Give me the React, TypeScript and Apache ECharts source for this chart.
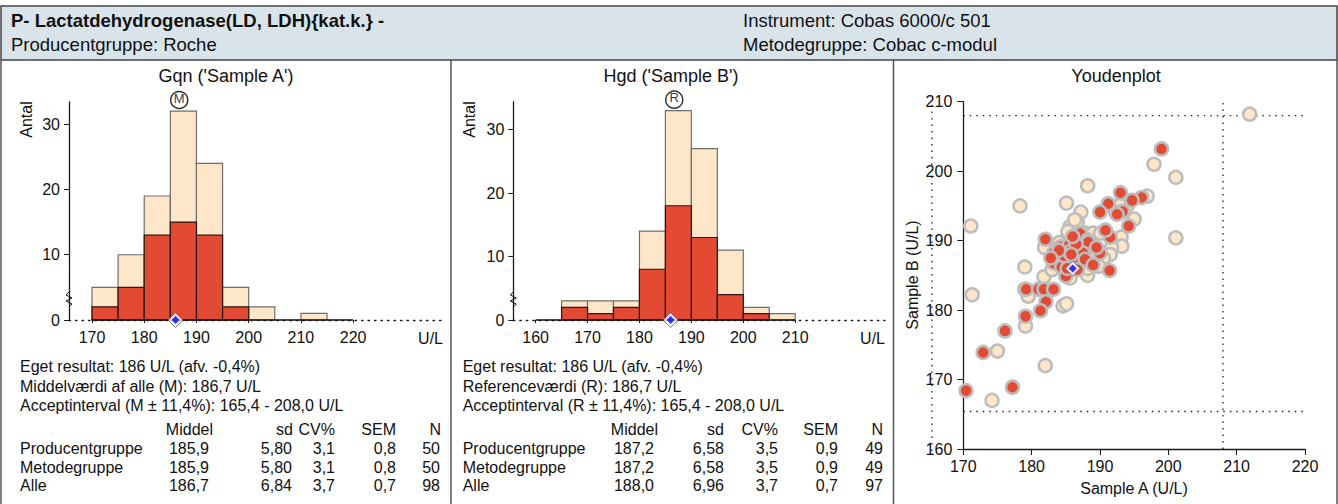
import React, { useEffect, useRef } from "react";
import * as echarts from "echarts";

const FONT = "'Liberation Sans', Arial, Helvetica, sans-serif";

// ---------- data ----------
const binWidth = 5;
const binStartsA = [170, 175, 180, 185, 190, 195, 200, 205, 210, 215];
const totalA = [5, 10, 19, 32, 24, 5, 2, 0, 1, 0];
const groupA = [2, 5, 13, 15, 13, 2, 0, 0, 0, 0];
const binStartsB = [160, 165, 170, 175, 180, 185, 190, 195, 200, 205];
const totalB = [0, 3, 3, 3, 14, 33, 27, 11, 2, 1];
const groupB = [0, 2, 1, 2, 8, 18, 13, 4, 1, 0];

const histTicksA = [170, 180, 190, 200, 210, 220];
const histTicksB = [160, 170, 180, 190, 200, 210];
const countTicks = [0, 10, 20, 30];

const ownResultA = 186;
const ownResultB = 186;
const meanA = 186.7;
const refB = 186.7;
const acceptLow = 165.4;
const acceptHigh = 208.0;

const youdenOthers: number[][] = [
  [211.9, 208.2], [197.9, 201.0], [201.1, 199.1], [188.2, 197.9], [178.3, 195.0],
  [185.1, 195.4], [187.2, 194.1], [171.1, 192.1], [201.1, 190.4], [196.9, 196.4],
  [194.0, 195.1], [192.9, 195.1], [192.3, 194.1], [195.0, 193.1], [185.6, 192.0],
  [186.7, 192.7], [187.8, 191.1], [189.0, 191.1], [190.1, 191.1], [193.1, 190.5],
  [193.2, 189.2], [181.9, 189.0], [185.0, 190.1], [186.9, 188.9], [191.7, 189.0],
  [191.5, 188.0], [188.9, 187.3], [179.0, 186.2], [181.8, 184.8], [188.2, 185.0],
  [188.2, 186.0], [185.6, 184.6], [179.5, 182.0], [179.0, 183.0], [184.6, 180.6],
  [185.1, 180.9], [179.1, 177.7], [171.3, 182.2], [175.0, 174.1], [182.0, 172.0],
  [174.2, 167.0], [186.3, 193.0], [185.3, 191.3], [184.0, 189.7], [190.5, 187.5],
  [187.0, 187.7], [186.0, 186.8], [183.0, 185.8], [189.8, 186.3],
];
const youdenGroup: number[][] = [
  [199.0, 203.2], [193.0, 196.9], [196.1, 196.2], [194.7, 195.8], [191.2, 195.3],
  [190.0, 194.1], [193.3, 194.2], [194.2, 192.1], [187.1, 191.0], [191.5, 190.5],
  [182.0, 190.2], [184.2, 189.1], [185.5, 189.4], [188.2, 190.1], [190.0, 188.2],
  [183.2, 188.2], [183.6, 187.6], [183.2, 186.8], [184.4, 186.2], [185.0, 184.9],
  [191.4, 185.7], [179.2, 183.0], [181.0, 183.0], [181.8, 183.0], [183.2, 183.0],
  [182.1, 181.2], [181.3, 179.9], [179.1, 179.1], [176.1, 177.0], [172.9, 173.9],
  [177.2, 168.9], [170.4, 168.4], [185.7, 188.5], [188.3, 189.8], [186.3, 187.0],
  [184.8, 187.8], [187.5, 188.2], [186.5, 189.5], [189.5, 189.0], [185.2, 186.0],
  [192.5, 193.8], [187.8, 187.3], [184.0, 188.6], [186.0, 190.6], [182.8, 187.5],
  [189.0, 186.5], [190.8, 191.5], [186.7, 185.8], [185.8, 188.0],
];

const headerTitle = "P- Lactatdehydrogenase(LD, LDH){kat.k.} -";
const headerProducer = "Producentgruppe: Roche";
const headerInstrument = "Instrument: Cobas 6000/c 501";
const headerMethod = "Metodegruppe: Cobac c-modul";

const infoA = [
  "Eget resultat: 186 U/L (afv. -0,4%)",
  "Middelværdi af alle (M): 186,7 U/L",
  "Acceptinterval (M ± 11,4%): 165,4 - 208,0 U/L",
];
const infoB = [
  "Eget resultat: 186 U/L (afv. -0,4%)",
  "Referenceværdi (R): 186,7 U/L",
  "Acceptinterval (R ± 11,4%): 165,4 - 208,0 U/L",
];
const statHeader = ["Middel", "sd", "CV%", "SEM", "N"];
const statRowsA = [
  ["Producentgruppe", "185,9", "5,80", "3,1", "0,8", "50"],
  ["Metodegruppe", "185,9", "5,80", "3,1", "0,8", "50"],
  ["Alle", "186,7", "6,84", "3,7", "0,7", "98"],
];
const statRowsB = [
  ["Producentgruppe", "187,2", "6,58", "3,5", "0,9", "49"],
  ["Metodegruppe", "187,2", "6,58", "3,5", "0,9", "49"],
  ["Alle", "188,0", "6,96", "3,7", "0,7", "97"],
];

// ---------- styles ----------
const RED = "#e34a33";
const BEIGE = "#fee6c8";
const AXIS = "#1a1a1a";
const DOT: number[] = [1.5, 5];

function histSeries(idx: number, starts: number[], counts: number[], fill: string, stroke: string) {
  return {
    type: "custom",
    xAxisIndex: idx,
    yAxisIndex: idx,
    clip: false,
    silent: true,
    encode: { x: [0, 1], y: 2 },
    data: starts.map((s, i) => [s, s + binWidth, counts[i]]).filter((d) => d[2] > 0),
    renderItem: (_p: any, api: any) => {
      const a = api.coord([api.value(0), 0]);
      const b = api.coord([api.value(1), api.value(2)]);
      return {
        type: "rect",
        shape: { x: a[0], y: b[1], width: b[0] - a[0], height: a[1] - b[1] },
        style: { fill, stroke, lineWidth: 1.2 },
      };
    },
  };
}

function diamond(idx: number, x: number, y: number) {
  return [
    {
      type: "scatter", xAxisIndex: idx, yAxisIndex: idx, clip: false, silent: true, z: 5,
      symbol: "diamond", symbolSize: 15, data: [[x, y]],
      itemStyle: { color: "#ffffff", borderColor: "#555", borderWidth: 1 },
    },
    {
      type: "scatter", xAxisIndex: idx, yAxisIndex: idx, clip: false, silent: true, z: 6,
      symbol: "diamond", symbolSize: 8, data: [[x, y]],
      itemStyle: { color: "#0000ff" },
    },
  ];
}

function circledLetter(idx: number, x: number, y: number, letter: string) {
  return {
    type: "scatter", xAxisIndex: idx, yAxisIndex: idx, clip: false, silent: true, z: 5,
    symbol: "circle", symbolSize: 17, symbolOffset: [0, -2], data: [[x, y]],
    itemStyle: { color: "#ffffff", borderColor: "#000", borderWidth: 1.5 },
    label: { show: true, position: "inside", formatter: letter, fontSize: 13, color: "#000", fontFamily: FONT, offset: [0, -2] },
  };
}

function histAxes(idx: number, min: number, max: number, ticks: number[], yMax: number) {
  const x = {
    gridIndex: idx, type: "value", min, max,
    axisLine: { show: true, onZero: false, lineStyle: { color: AXIS, width: 1.3, type: DOT } },
    axisTick: { show: true, length: 3, customValues: ticks, lineStyle: { color: AXIS, width: 1 } },
    axisLabel: { customValues: ticks, fontSize: 16, color: "#111", margin: 9, fontFamily: FONT },
    splitLine: { show: false },
  };
  const y = {
    gridIndex: idx, type: "value", min: 0, max: yMax,
    axisLine: { show: true, lineStyle: { color: AXIS, width: 1.3 } },
    axisTick: { show: true, length: 5, customValues: countTicks, lineStyle: { color: AXIS, width: 1 } },
    axisLabel: { customValues: countTicks, fontSize: 16, color: "#111", margin: 9, fontFamily: FONT },
    splitLine: { show: false },
  };
  return { x, y };
}

function txt(x: number, y: number, text: string, opts: any = {}) {
  return {
    type: "text", x, y, silent: true, z: 10,
    rotation: opts.rotation || 0,
    style: {
      text, fill: "#111", fontSize: opts.size || 16, fontFamily: FONT,
      fontWeight: opts.bold ? "bold" : "normal",
      align: opts.align || "left", verticalAlign: "middle",
    },
  };
}

function statTable(left: number, rights: number[], headRights: number[], info: string[], rows: string[][]) {
  const out: any[] = [];
  const infoY = [366, 386, 405];
  info.forEach((t, i) => out.push(txt(left, infoY[i], t)));
  statHeader.forEach((h, i) => out.push(txt(headRights[i], 429, h, { align: "right" })));
  const rowY = [448, 467, 485];
  rows.forEach((r, ri) => {
    out.push(txt(left, rowY[ri], r[0]));
    r.slice(1).forEach((v, ci) => out.push(txt(rights[ci], rowY[ri], v, { align: "right" })));
  });
  return out;
}

function zigzag(x: number, y: number) {
  return {
    type: "polyline", silent: true, z: 10,
    shape: { points: [[x, y - 8], [x - 3, y - 5], [x + 3, y - 2], [x - 3, y + 1], [x + 3, y + 4], [x, y + 7]] },
    style: { stroke: "#111", lineWidth: 1, fill: null },
  };
}

export default function App() {
  const ref = useRef<HTMLDivElement>(null);
  useEffect(() => {
    document.body.style.margin = "0";
    const chart = echarts.init(ref.current!, null, { renderer: "svg" });
    const a0 = histAxes(0, 165.6, 237.2, histTicksA, 33.4);
    const a1 = histAxes(1, 155.7, 227.3, histTicksB, 34.4);
    const youdenTicksLabel = { fontSize: 16, color: "#111", fontFamily: FONT };
    const graphic: any[] = [
      {
        type: "rect", silent: true, z: 0,
        shape: { x: 1, y: 6, width: 1336, height: 54 },
        style: { fill: "#d9e4ea", stroke: "#444", lineWidth: 1.5 },
      },
      { type: "line", silent: true, shape: { x1: 1, y1: 60, x2: 1, y2: 504 }, style: { stroke: "#555", lineWidth: 1.5 } },
      { type: "line", silent: true, shape: { x1: 451, y1: 60, x2: 451, y2: 504 }, style: { stroke: "#555", lineWidth: 1.5 } },
      { type: "line", silent: true, shape: { x1: 893.5, y1: 60, x2: 893.5, y2: 504 }, style: { stroke: "#555", lineWidth: 1.5 } },
      { type: "line", silent: true, shape: { x1: 1337, y1: 60, x2: 1337, y2: 504 }, style: { stroke: "#555", lineWidth: 1.5 } },
      txt(11, 20, headerTitle, { bold: true, size: 18.5 }),
      txt(11, 44, headerProducer, { size: 18.5 }),
      txt(743, 20, headerInstrument, { size: 18.5 }),
      txt(743, 44, headerMethod, { size: 18.5 }),
      txt(226, 76, "Gqn ('Sample A')", { align: "center", size: 18 }),
      txt(671, 76, "Hgd ('Sample B')", { align: "center", size: 18 }),
      txt(1116, 76, "Youdenplot", { align: "center", size: 18 }),
      txt(26.5, 119.5, "Antal", { align: "center", rotation: Math.PI / 2 }),
      txt(469, 119.5, "Antal", { align: "center", rotation: Math.PI / 2 }),
      txt(912, 275, "Sample B (U/L)", { align: "center", rotation: Math.PI / 2 }),
      txt(1134, 488, "Sample A (U/L)", { align: "center" }),
      txt(443, 338, "U/L", { align: "right" }),
      txt(885, 338, "U/L", { align: "right" }),
      zigzag(69, 300),
      zigzag(513.3, 300),
      ...statTable(20, [209, 292, 335, 396, 440], [213, 293, 335, 396, 441], infoA, statRowsA),
      ...statTable(462.7, [654, 724, 778, 838, 883], [658, 724, 778, 838, 883], infoB, statRowsB),
    ];
    const option: any = {
      animation: false,
      backgroundColor: "#ffffff",
      grid: [
        { left: 69, top: 102, width: 374, height: 218 },
        { left: 513.3, top: 101.7, width: 371.7, height: 218.3 },
        { left: 963.3, top: 101.7, width: 341.7, height: 347.3 },
      ],
      xAxis: [
        a0.x,
        a1.x,
        {
          gridIndex: 2, type: "value", min: 170, max: 220, interval: 10,
          axisLine: { show: true, onZero: false, lineStyle: { color: AXIS, width: 1.3 } },
          axisTick: { show: true, length: 6, lineStyle: { color: AXIS } },
          axisLabel: { ...youdenTicksLabel, margin: 9 },
          splitLine: { show: false },
        },
      ],
      yAxis: [
        a0.y,
        a1.y,
        {
          gridIndex: 2, type: "value", min: 160, max: 210, interval: 10,
          axisLine: { show: true, onZero: false, lineStyle: { color: AXIS, width: 1.3 } },
          axisTick: { show: true, length: 6, lineStyle: { color: AXIS } },
          axisLabel: { ...youdenTicksLabel, margin: 11 },
          splitLine: { show: false },
        },
      ],
      series: [
        histSeries(0, binStartsA, totalA, BEIGE, "#6e6e6e"),
        histSeries(0, binStartsA, groupA, RED, "#2a1510"),
        {
          type: "line", xAxisIndex: 0, yAxisIndex: 0, silent: true, symbol: "none", clip: false, z: 4,
          data: [[binStartsA[0], 0], [binStartsA[binStartsA.length - 1] + binWidth, 0]],
          lineStyle: { color: "#111", width: 1.6 },
        },
        ...diamond(0, ownResultA, 0),
        circledLetter(0, meanA, 33.4, "M"),

        histSeries(1, binStartsB, totalB, BEIGE, "#6e6e6e"),
        histSeries(1, binStartsB, groupB, RED, "#2a1510"),
        {
          type: "line", xAxisIndex: 1, yAxisIndex: 1, silent: true, symbol: "none", clip: false, z: 4,
          data: [[binStartsB[0], 0], [binStartsB[binStartsB.length - 1] + binWidth, 0]],
          lineStyle: { color: "#111", width: 1.6 },
        },
        ...diamond(1, ownResultB, 0),
        circledLetter(1, refB, 34.4, "R"),

        // Youden acceptance lines (inside the axis range)
        ...[
          [[acceptHigh, 160], [acceptHigh, 210]],
          [[170, acceptLow], [220, acceptLow]],
          [[170, acceptHigh], [220, acceptHigh]],
        ].map((d) => ({
          type: "line", xAxisIndex: 2, yAxisIndex: 2, silent: true, symbol: "none", clip: false, z: 1,
          data: d, lineStyle: { color: "#222", width: 1.3, type: DOT },
        })),
        {
          type: "scatter", xAxisIndex: 2, yAxisIndex: 2, silent: true, clip: false, z: 2,
          symbol: "circle", symbolSize: 13, data: youdenOthers,
          itemStyle: { color: BEIGE, borderColor: "#bdbdbd", borderWidth: 2.5, opacity: 1 },
        },
        {
          type: "scatter", xAxisIndex: 2, yAxisIndex: 2, silent: true, clip: false, z: 3,
          symbol: "circle", symbolSize: 13, data: youdenGroup,
          itemStyle: { color: RED, borderColor: "#bdbdbd", borderWidth: 2.5, opacity: 1 },
        },
        ...diamond(2, ownResultA, ownResultB),
      ],
      graphic,
    };
    chart.setOption(option);
    // lower acceptance limit for sample A lies left of the axis range: place it via the axis scale
    const p0 = chart.convertToPixel({ gridIndex: 2 }, [acceptLow, 160]) as number[];
    const p1 = chart.convertToPixel({ gridIndex: 2 }, [acceptLow, 210]) as number[];
    if (p0 && p1) {
      chart.setOption({
        graphic: [
          ...graphic,
          {
            type: "line", silent: true, z: 1,
            shape: { x1: p0[0], y1: p0[1] + 2, x2: p1[0], y2: p1[1] },
            style: { stroke: "#222", lineWidth: 1.3, lineDash: DOT },
          },
        ],
      });
    }
    return () => chart.dispose();
  }, []);
  return <div ref={ref} style={{ width: 1338, height: 504, position: "absolute", left: 0, top: 0 }} />;
}
